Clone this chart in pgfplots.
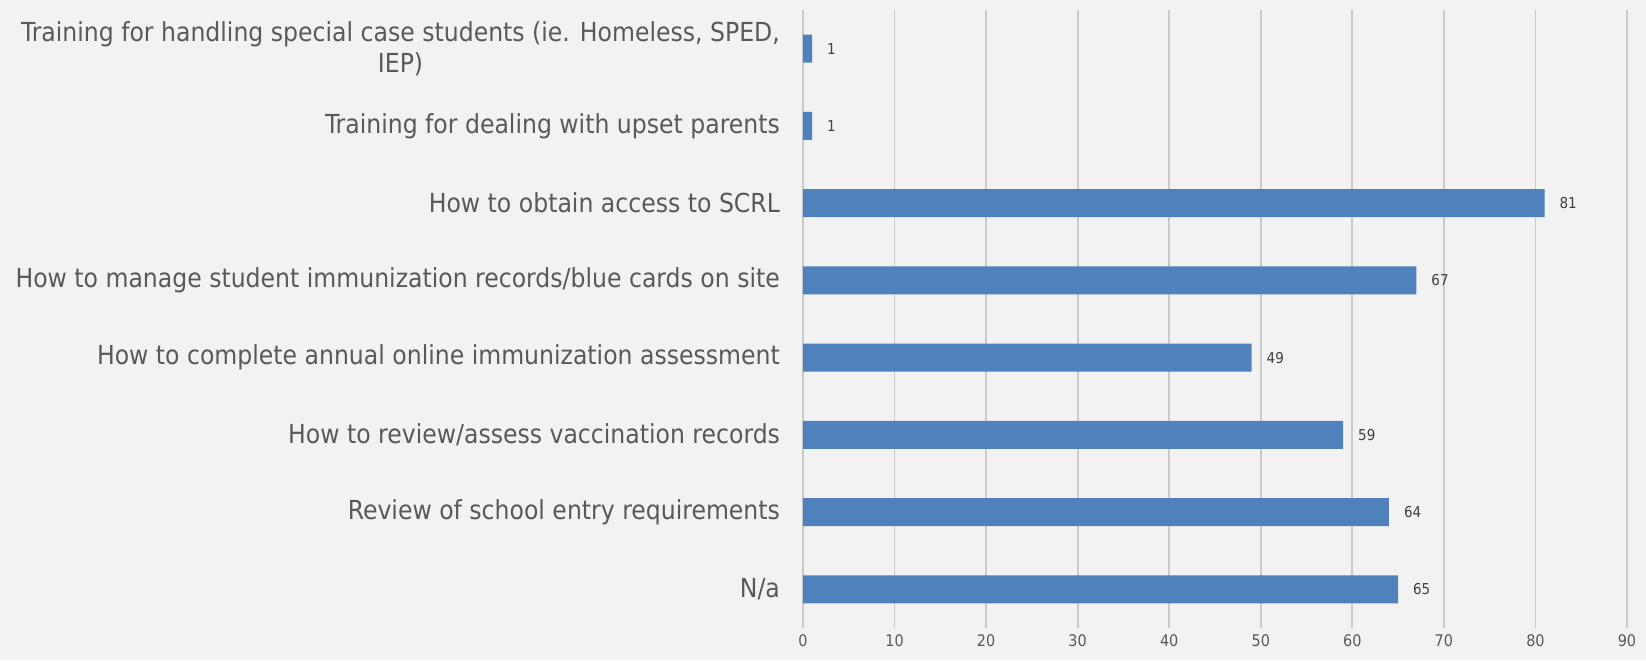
\documentclass[border=0pt]{standalone}
\usepackage{pgfplots}
\pgfplotsset{compat=1.18}
\usepackage{fontspec}
\setmainfont{DejaVu Sans Condensed}
\definecolor{bg}{HTML}{F2F2F2}
\definecolor{barblue}{HTML}{4F81BD}
\definecolor{gridc}{HTML}{CACACA}
\definecolor{lbl}{HTML}{595959}
\definecolor{dl}{HTML}{404040}
\begin{document}
\begin{tikzpicture}
\useasboundingbox[fill=bg] (0,0) rectangle (823pt,330pt);
\begin{axis}[
  at={(401.5pt,16pt)}, anchor=south west,
  scale only axis, width=412pt, height=309pt,
  xmin=0, xmax=90, ymin=-0.5, ymax=7.5,
  enlargelimits=false,
  xbar, bar width=14pt,
  xtick={0,10,...,90},
  ytick={0,...,7},
  yticklabels={N/a, Review of school entry requirements, How to review/assess vaccination records, How to complete annual online immunization assessment, How to manage student immunization records/blue cards on site, How to obtain access to SCRL, Training for dealing with upset parents, {Training for handling special case students (ie. Homeless, SPED,\\IEP)}},
  /pgf/number format/assume math mode=true,
  xmajorgrids,
  grid style={draw=gridc, line width=0.9pt},
  axis line style={draw=none},
  major tick length=0pt,
  xticklabel style={font=\fontsize{8}{9}\selectfont, text=lbl, yshift=0pt},
  yticklabel style={font=\fontsize{13.1}{15.5}\selectfont, text=lbl, align=center, xshift=-8pt},
  nodes near coords,
  nodes near coords style={font=\fontsize{7.5}{9}\selectfont, text=dl, anchor=west, xshift=4pt},
]
\addplot[fill=barblue, draw=none] coordinates {(65,0) (64,1) (59,2) (49,3) (67,4) (81,5) (1,6) (1,7)};
\end{axis}
\end{tikzpicture}
\end{document}
